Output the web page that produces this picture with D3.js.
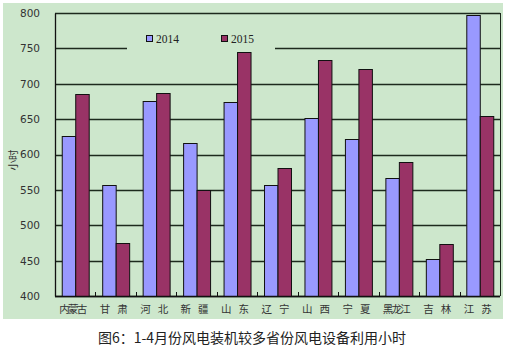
<!DOCTYPE html>
<html>
<head>
<meta charset="utf-8">
<script src="https://cdn.jsdelivr.net/npm/d3@7"></script>
<style>
  body { margin: 0; background: #fff; }
  text { font-family: "Noto Sans CJK SC", "DejaVu Sans", sans-serif; }
</style>
</head>
<body>
<script>
const provinces = ["内蒙古", "甘肃", "河北", "新疆", "山东", "辽宁", "山西", "宁夏", "黑龙江", "吉林", "江苏"];
const series = ["2014", "2015"];
const values2014 = [626, 557, 676, 616, 674, 557, 651, 622, 567, 452, 797];
const values2015 = [686, 475, 687, 550, 745, 581, 734, 721, 590, 473, 654];
const yTicks = [400, 450, 500, 550, 600, 650, 700, 750, 800];

const width = 505, height = 353;
const colors = { "2014": "#9999ff", "2015": "#993366" };
const bg = "#cde7cc";

const margin = { left: 55, right: 5, top: 13, bottom: 57 };
const x0 = margin.left, x1 = width - margin.right;
const y0 = height - margin.bottom, y1 = margin.top;

const svg = d3.select("body").append("svg")
  .attr("width", width)
  .attr("height", height);

// chart background
svg.append("rect")
  .attr("x", 3).attr("y", 3)
  .attr("width", 500).attr("height", 316)
  .attr("fill", bg);

const x = d3.scaleBand().domain(provinces).range([x0, x1]).paddingInner(0).paddingOuter(0);
const xs = d3.scaleBand().domain(series).range([0, x.bandwidth()]).paddingInner(0).paddingOuter(0.5);
const y = d3.scaleLinear().domain([400, 800]).range([y0, y1]);

// gridlines
svg.append("g").selectAll("line")
  .data(yTicks)
  .enter().append("line")
  .attr("x1", x0).attr("x2", x1)
  .attr("y1", d => Math.round(y(d)) + 0.5)
  .attr("y2", d => Math.round(y(d)) + 0.5)
  .attr("stroke", "#1d2a1d")
  .attr("stroke-width", 1.3);

// legend covers a piece of the 750 line
svg.append("rect")
  .attr("x", 127).attr("y", 28)
  .attr("width", 148).attr("height", 24)
  .attr("fill", bg);

// right border
svg.append("line")
  .attr("x1", x1 + 0.5).attr("x2", x1 + 0.5)
  .attr("y1", y1).attr("y2", y0)
  .attr("stroke", "#1d2a1d");

// bars
const groups = svg.append("g").selectAll("g")
  .data(provinces.map((p, i) => ({ p, v: [values2014[i], values2015[i]] })))
  .enter().append("g")
  .attr("transform", d => `translate(${x(d.p)},0)`);

groups.selectAll("rect")
  .data(d => series.map((s, j) => ({ s, v: d.v[j] })))
  .enter().append("rect")
  .attr("x", d => xs(d.s) + 0.5)
  .attr("y", d => Math.round(y(d.v)) + 0.5)
  .attr("width", xs.bandwidth())
  .attr("height", d => y0 - Math.round(y(d.v)))
  .attr("fill", d => colors[d.s])
  .attr("stroke", "#111")
  .attr("stroke-width", 1);

// y axis
const yAxis = svg.append("g")
  .attr("transform", `translate(${x0},0)`)
  .call(d3.axisLeft(y).tickValues(yTicks).tickSize(0).tickPadding(15));
yAxis.select(".domain").attr("stroke", "#111").attr("stroke-width", 1.3);
yAxis.selectAll("text")
  .attr("font-size", 10.5)
  .attr("fill", "#333")
  .style("font-family", "DejaVu Sans");

// x axis with inside ticks at category boundaries
svg.append("line")
  .attr("x1", x0).attr("x2", x1)
  .attr("y1", y0 + 0.5).attr("y2", y0 + 0.5)
  .attr("stroke", "#111").attr("stroke-width", 1.3);

svg.append("g").selectAll("line")
  .data(provinces.slice(1))
  .enter().append("line")
  .attr("x1", d => Math.round(x(d)) + 0.5)
  .attr("x2", d => Math.round(x(d)) + 0.5)
  .attr("y1", y0).attr("y2", y0 - 4)
  .attr("stroke", "#111");

svg.append("g").selectAll("text")
  .data(provinces)
  .enter().append("text")
  .attr("x", d => x(d) + x.bandwidth() / 2 - 2)
  .attr("y", y0 + 17)
  .attr("text-anchor", "middle")
  .attr("font-size", 10.5)
  .attr("fill", "#333")
  .attr("textLength", 28)
  .attr("lengthAdjust", "spacing")
  .text(d => d);

// y label
svg.append("text")
  .attr("transform", "translate(17,160) rotate(-90)")
  .attr("text-anchor", "middle")
  .attr("font-size", 10.5)
  .attr("fill", "#333")
  .text("小时");

// legend
const legend = svg.append("g").selectAll("g")
  .data(series)
  .enter().append("g")
  .attr("transform", (d, i) => `translate(${146 + i * 75},35)`);
legend.append("rect")
  .attr("x", 0.5).attr("y", 0.5)
  .attr("width", 6).attr("height", 6)
  .attr("fill", d => colors[d])
  .attr("stroke", "#111");
legend.append("text")
  .attr("x", 10).attr("y", 7.5)
  .attr("font-size", 11.5)
  .attr("fill", "#222")
  .style("font-family", "Liberation Serif")
  .text(d => d);

// title
svg.append("text")
  .attr("x", 252).attr("y", 343)
  .attr("text-anchor", "middle")
  .attr("font-size", 14)
  .attr("fill", "#222")
  .text("图6：1-4月份风电装机较多省份风电设备利用小时");
</script>
</body>
</html>
